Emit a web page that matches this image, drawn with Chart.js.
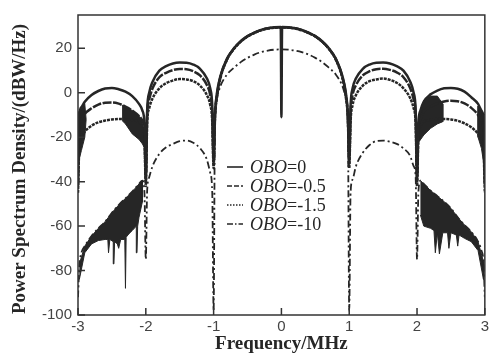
<!DOCTYPE html>
<html>
<head>
<meta charset="utf-8">
<script src="https://cdn.jsdelivr.net/npm/chart.js@4.4.1/dist/chart.umd.min.js"></script>
<style>
  html, body { margin: 0; padding: 0; background: #fff; }
  #wrap { width: 492px; height: 355px; }
</style>
</head>
<body>
<div id="wrap"><canvas id="psd"></canvas></div>
<script>
// frequency grid (MHz) shared by the four curves
const freq = [
  -3, -2.98, -2.95, -2.9, -2.8, -2.7, -2.6, -2.5, -2.4, -2.3, -2.2, -2.1, -2.05, -2.02,
  -2, -1.98, -1.95, -1.9, -1.8, -1.7, -1.6, -1.5, -1.4, -1.3, -1.2, -1.1, -1.05, -1.02,
  -1, -0.98, -0.95, -0.9, -0.8, -0.7, -0.6, -0.5, -0.4, -0.3, -0.2, -0.1, -0.01,
  0,
  0.01, 0.1, 0.2, 0.3, 0.4, 0.5, 0.6, 0.7, 0.8, 0.9, 0.95, 0.98, 1,
  1.02, 1.05, 1.1, 1.2, 1.3, 1.4, 1.5, 1.6, 1.7, 1.8, 1.9, 1.95, 1.98, 2,
  2.02, 2.05, 2.1, 2.2, 2.3, 2.4, 2.5, 2.6, 2.7, 2.8, 2.9, 2.95, 2.98, 3
];

// PSD, dBW/Hz
const obo0 = [
  -40, -10, -6.5, -4, -1, 0.8, 1.9, 2.2, 1.6, 0.5, -1.5, -5, -8, -14,
  -38, -8, 0, 5, 10, 12, 13.2, 13.6, 13.5, 12.7, 10.8, 6.5, 2, -6,
  -30, -10, 0, 7.5, 15.5, 20, 23.2, 25.5, 27.1, 28.3, 29.1, 29.5, 29.6,
  -11,
  29.6, 29.5, 29.1, 28.3, 27.1, 25.5, 23.2, 20, 15.5, 7.5, 0, -10, -30,
  -6, 2, 6.5, 10.8, 12.7, 13.5, 13.6, 13.2, 12, 10, 5, 0, -8, -38,
  -14, -8, -4, -0.7, 1, 2, 2.2, 1.8, 0.5, -2, -5, -8, -12, -40
];
const oboM05 = [
  -42, -17, -12, -9.5, -7, -5.3, -4.5, -4.4, -4.9, -6.2, -8, -10.5, -12.5, -17,
  -40, -10, -3, 2, 7, 9, 10.2, 10.7, 10.6, 9.7, 7.8, 3.5, -1, -9,
  -32, -11, -1, 7, 15.3, 19.9, 23.1, 25.4, 27, 28.2, 29, 29.4, 29.5,
  29.5,
  29.5, 29.4, 29, 28.2, 27, 25.4, 23.1, 19.9, 15.3, 7, -1, -11, -32,
  -9, -1, 3.5, 7.8, 9.7, 10.6, 10.8, 10.3, 9.2, 7, 2, -3, -10, -40,
  -17, -12, -8.5, -6.3, -4.8, -3.9, -3.6, -3.8, -4.8, -6.8, -10, -13, -17, -42
];
const oboM15 = [
  -45, -24, -20, -17.5, -14.8, -13.3, -12.5, -12, -11.8, -11.9, -12.3, -13.2, -15, -20,
  -42, -14, -7, -2.5, 2, 4.3, 5.5, 6.2, 6, 5.2, 3.2, -1, -5.5, -13,
  -34, -12, -2, 6.5, 15, 19.7, 23, 25.3, 26.9, 28.1, 28.9, 29.3, 29.4,
  29.4,
  29.4, 29.3, 28.9, 28.1, 26.9, 25.3, 23, 19.7, 15, 6.5, -2, -12, -34,
  -13, -5.5, -1, 3.2, 5.2, 6, 6.4, 5.8, 4.5, 2, -2.5, -7, -14, -42,
  -20, -15, -13, -12.2, -11.8, -11.8, -12, -12.6, -13.8, -15.5, -18.5, -21, -25, -45
];
const oboM10 = [
  -92, -78, -72, -69, -64.5, -61, -58, -54, -50.5, -47.5, -44.5, -41, -39.5, -45,
  -75, -44, -38, -33, -27.5, -24.5, -23, -21.8, -21.5, -22.5, -25, -30, -36, -45,
  -98, -12, -2, 3, 8.3, 11.3, 13.8, 15.7, 17.2, 18.3, 19, 19.4, 19.5,
  19.5,
  19.5, 19.4, 19, 18.3, 17.2, 15.7, 13.8, 11.3, 8.3, 3, -2, -12, -98,
  -45, -39, -33, -27, -23.5, -21.7, -21.5, -22, -23, -25, -28.5, -33, -38, -75,
  -45, -39.5, -41, -44, -46.5, -49, -52, -56, -59.5, -62.5, -67, -71, -76, -92
];

// dense noise patches (outline: upper edge, then back along the lower edge)
const noiseLX = [-2.98, -2.9, -2.8, -2.7, -2.6, -2.5, -2.4, -2.3, -2.2, -2.1, -2.05,
  -2.05, -2.1, -2.12, -2.13, -2.14, -2.2, -2.25, -2.29, -2.3, -2.31, -2.37, -2.4, -2.42,
  -2.46, -2.47, -2.48, -2.53, -2.55, -2.56, -2.6, -2.7, -2.8, -2.9, -2.98];
const noiseLY = [-77, -69, -64.5, -61, -58, -54, -50.5, -47.5, -44.5, -41, -39.5,
  -49, -56, -60, -72, -60, -62, -63.5, -65, -88, -66, -66, -70, -68,
  -67, -77, -67, -66, -72, -66, -66, -66.5, -68, -72, -84];
const noiseRX = [2.05, 2.1, 2.2, 2.3, 2.4, 2.5, 2.6, 2.7, 2.8, 2.9, 2.98,
  2.98, 2.9, 2.8, 2.7, 2.62, 2.6, 2.58, 2.5, 2.47, 2.45, 2.38, 2.33, 2.3, 2.27, 2.25,
  2.2, 2.1, 2.05];
const noiseRY = [-39.5, -41, -44, -46.5, -49, -52, -56, -59.5, -62.5, -67, -76,
  -84, -71, -67, -65.5, -64, -69, -64, -63, -70, -63, -63, -72.5, -63, -72, -62,
  -61, -60, -55];
const regrowLX = [-2.35, -2.3, -2.2, -2.1, -2.05, -2, -2.05, -2.1, -2.2, -2.3, -2.35];
const regrowLY = [-5.6, -6.2, -8, -10.5, -12.5, -26, -23, -21, -18.5, -14, -12.5];
const regrowRX = [2, 2.03, 2.1, 2.2, 2.3, 2.38, 2.38, 2.3, 2.2, 2.1, 2.03];
const regrowRY = [-26, -10, -3.5, -1.5, -1.5, -5, -13, -14, -16, -19, -22];
const edgeLX = [-3, -2.95, -2.9, -2.88, -2.9, -2.95, -3];
const edgeLY = [-9, -7, -5, -12, -20, -26, -32];
const edgeRX = [3, 2.95, 2.9, 2.9, 2.95, 3];
const edgeRY = [-10, -8, -6, -20, -25, -35];

const xTicks = [-3, -2, -1, 0, 1, 2, 3];
const yTicks = [-100, -80, -60, -40, -20, 0, 20];
const legendTail = ['=0', '=-0.5', '=-1.5', '=-10'];
const legendDash = [[], [5, 2], [1.5, 1.5], [6, 2, 1.5, 2]];

const ink = '#262626';
const pts = (xs, ys) => xs.map((x, i) => ({ x, y: ys[i] }));

const curve = (ys, dash, width) => ({
  data: pts(freq, ys),
  borderColor: ink,
  borderWidth: width,
  borderDash: dash,
  pointRadius: 0,
  fill: false,
  cubicInterpolationMode: 'monotone'
});
const patch = (xs, ys) => ({
  data: pts(xs, ys),
  borderColor: ink,
  backgroundColor: ink,
  borderWidth: 1,
  pointRadius: 0,
  tension: 0,
  fill: 'shape'
});

// frame, inward ticks, rotated y title and the legend
const decor = {
  id: 'decor',
  afterDraw(chart) {
    const { ctx, chartArea: a, scales: { x, y } } = chart;
    ctx.save();
    ctx.strokeStyle = '#333';
    ctx.lineWidth = 1.5;
    ctx.strokeRect(a.left, a.top, a.right - a.left, a.bottom - a.top);
    ctx.beginPath();
    x.ticks.forEach(t => {
      const px = x.getPixelForValue(t.value);
      ctx.moveTo(px, a.bottom);
      ctx.lineTo(px, a.bottom - 7);
    });
    y.ticks.forEach(t => {
      const py = y.getPixelForValue(t.value);
      ctx.moveTo(a.left, py);
      ctx.lineTo(a.left + 7, py);
    });
    ctx.stroke();

    ctx.fillStyle = ink;
    ctx.save();
    ctx.translate(20, 169);
    ctx.rotate(-Math.PI / 2);
    ctx.font = 'bold 19px "Liberation Serif"';
    ctx.textAlign = 'center';
    ctx.textBaseline = 'middle';
    ctx.fillText('Power Spectrum Density/(dBW/Hz)', 0, 0);
    ctx.restore();

    ctx.textAlign = 'left';
    ctx.textBaseline = 'middle';
    legendTail.forEach((tail, i) => {
      const ly = 168 + i * 19;
      ctx.setLineDash(legendDash[i]);
      ctx.lineWidth = 1.6;
      ctx.strokeStyle = ink;
      ctx.beginPath();
      ctx.moveTo(227, ly - 1);
      ctx.lineTo(243, ly - 1);
      ctx.stroke();
      ctx.setLineDash([]);
      ctx.font = 'italic 18px "Liberation Serif"';
      ctx.fillText('OBO', 250, ly);
      const w = ctx.measureText('OBO').width;
      ctx.font = '18px "Liberation Serif"';
      ctx.fillText(tail, 250 + w, ly);
    });
    ctx.restore();
  }
};

new Chart(document.getElementById('psd'), {
  type: 'line',
  data: {
    datasets: [
      curve(obo0, [], 2.5),
      curve(oboM05, [9, 1.5], 2.5),
      curve(oboM15, [3, 1], 2.5),
      curve(oboM10, [7, 3, 2, 3], 1.8),
      patch(noiseLX, noiseLY),
      patch(noiseRX, noiseRY),
      patch(regrowLX, regrowLY),
      patch(regrowRX, regrowRY),
      patch(edgeLX, edgeLY),
      patch(edgeRX, edgeRY)
    ]
  },
  options: {
    responsive: true,
    maintainAspectRatio: false,
    animation: false,
    layout: { padding: { top: 9, right: 4, left: 0, bottom: 0 } },
    plugins: { legend: { display: false }, tooltip: { enabled: false } },
    scales: {
      x: {
        type: 'linear',
        min: -3,
        max: 3,
        afterBuildTicks: s => { s.ticks = xTicks.map(v => ({ value: v })); },
        afterFit: s => { s.height = 40; },
        grid: { display: false, drawTicks: false },
        border: { display: false },
        ticks: { padding: 3, color: '#444', font: { family: 'Liberation Sans', size: 15 } },
        title: {
          display: true,
          text: 'Frequency/MHz',
          color: ink,
          padding: { top: 0, bottom: 0 },
          font: { family: 'Liberation Serif', size: 19, weight: 'bold' }
        }
      },
      y: {
        min: -100,
        max: 35,
        afterBuildTicks: s => { s.ticks = yTicks.map(v => ({ value: v })); },
        afterFit: s => { s.width = 78; },
        grid: { display: false, drawTicks: false },
        border: { display: false },
        ticks: { padding: 6, color: '#444', font: { family: 'Liberation Sans', size: 15 } }
      }
    }
  },
  plugins: [decor]
});
</script>
</body>
</html>
